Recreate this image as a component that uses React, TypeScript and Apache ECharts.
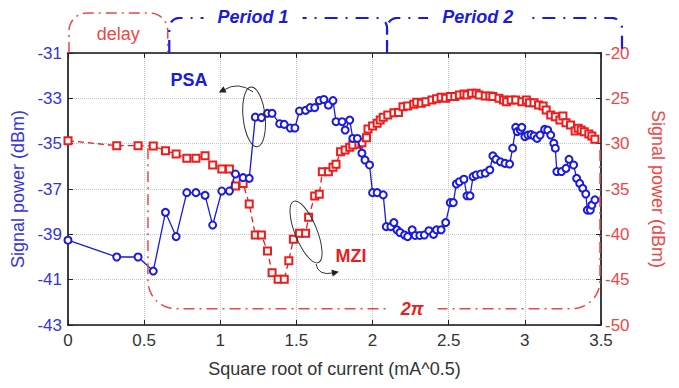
import React, { useEffect, useRef } from "react";
import * as echarts from "echarts";

// Square root of bias current (mA^0.5) and PSA output power (dBm, left axis)
const psaCurrent = [
  0, 0.32, 0.46, 0.56, 0.64, 0.71, 0.78, 0.84, 0.9, 0.95, 1.01, 1.06, 1.1, 1.15, 1.19,
  1.23, 1.27, 1.31, 1.34, 1.39, 1.42, 1.46, 1.49, 1.52, 1.56, 1.59, 1.62, 1.65, 1.68,
  1.71, 1.74, 1.76, 1.8, 1.82, 1.85, 1.87, 1.9, 1.93, 1.95, 1.98, 2.0, 2.03, 2.07,
  2.09, 2.12, 2.14, 2.16, 2.18, 2.21, 2.23, 2.26, 2.28, 2.31, 2.34, 2.37, 2.4, 2.42,
  2.45, 2.48, 2.51, 2.53, 2.55, 2.57, 2.6, 2.62, 2.64, 2.66, 2.68, 2.71, 2.74, 2.77,
  2.79, 2.81, 2.84, 2.87, 2.9, 2.92, 2.94, 2.95, 2.97, 2.98, 3.0, 3.02, 3.04, 3.06,
  3.08, 3.1, 3.13, 3.15, 3.17, 3.19, 3.2, 3.21, 3.24, 3.27, 3.29, 3.32, 3.34, 3.36,
  3.38, 3.4, 3.41, 3.43, 3.44, 3.46,
];
const psaPower = [
  -39.26, -40.0, -40.0, -40.62, -38.03, -39.1, -37.16, -37.16, -37.28, -38.59, -37.09,
  -37.09, -36.34, -36.5, -36.53, -33.83, -33.85, -33.66, -33.66, -34.12, -34.15, -34.31,
  -34.31, -33.56, -33.53, -33.41, -33.41, -33.1, -33.05, -33.3, -33.1, -34.03, -34.03,
  -34.4, -33.96, -34.77, -34.77, -35.42, -35.72, -35.94, -37.16, -37.16, -37.26, -38.66,
  -38.66, -38.48, -38.8, -38.92, -39.03, -39.1, -38.8, -39.05, -39.05, -39.03, -38.84,
  -39.0, -38.8, -38.8, -38.48, -37.6, -37.6, -36.78, -36.68, -36.57, -37.3, -37.3,
  -36.45, -36.38, -36.34, -36.3, -36.16, -35.54, -35.69, -35.8, -35.87, -35.9, -35.2,
  -34.28, -34.47, -34.4, -34.28, -34.69, -34.62, -34.6, -34.66, -34.77, -34.62, -34.37,
  -34.4, -34.62, -34.98, -35.2, -36.23, -36.23, -36.09, -35.69, -35.94, -36.53, -36.75,
  -36.97, -37.22, -37.93, -37.93, -37.71, -37.48,
];

// MZI output power (dBm, right axis)
const mziCurrent = [
  0, 0.32, 0.46, 0.56, 0.64, 0.71, 0.78, 0.84, 0.9, 0.95, 1.01, 1.06, 1.1, 1.15, 1.19,
  1.23, 1.27, 1.31, 1.34, 1.38, 1.42, 1.45, 1.48, 1.52, 1.56, 1.58, 1.62, 1.65, 1.67,
  1.71, 1.74, 1.76, 1.79, 1.82, 1.85, 1.87, 1.91, 1.93, 1.96, 1.97, 2.0, 2.03, 2.05,
  2.07, 2.1, 2.14, 2.17, 2.2, 2.23, 2.27, 2.29, 2.32, 2.35, 2.39, 2.42, 2.45, 2.48,
  2.51, 2.54, 2.57, 2.6, 2.62, 2.65, 2.68, 2.7, 2.74, 2.77, 2.79, 2.83, 2.86, 2.88,
  2.91, 2.94, 2.98, 3.01, 3.03, 3.06, 3.09, 3.12, 3.14, 3.17, 3.2, 3.23, 3.25, 3.27,
  3.3, 3.33, 3.35, 3.37, 3.39, 3.42, 3.44, 3.46,
];
const mziPower = [
  -29.67, -30.22, -30.22, -30.26, -30.77, -31.14, -31.62, -31.62, -31.32, -32.35, -32.8,
  -32.8, -34.67, -34.38, -36.65, -40.07, -40.07, -41.84, -44.23, -44.96, -44.96, -42.9,
  -40.55, -39.89, -39.89, -38.12, -35.77, -35.59, -33.09, -33.09, -32.6, -32.28, -30.88,
  -30.7, -30.4, -30.15, -30.07, -29.89, -29.34, -28.38, -28.05, -27.76, -27.39, -27.09,
  -26.84, -26.58, -26.55, -25.92, -25.85, -25.66, -25.44, -25.55, -25.37, -25.18, -25.05,
  -24.89, -25.0, -24.8, -24.8, -24.63, -24.52, -24.63, -24.45, -24.45, -24.63, -24.74,
  -24.74, -24.8, -25.0, -25.18, -25.37, -25.18, -25.18, -25.37, -25.18, -25.48, -25.48,
  -25.74, -25.85, -26.29, -26.84, -27.02, -27.39, -26.95, -27.68, -27.94, -28.6, -28.3,
  -28.49, -28.68, -28.93, -29.15, -29.52,
];

const psaAxisTicks = [-43, -41, -39, -37, -35, -33, -31];

const FONT = "'Liberation Sans', Arial, Helvetica, sans-serif";
const BLUE = "#1a1ae0";
const BLUE_TEXT = "#3434e6";
const RED = "#ee1c1c";
const RED_TEXT = "#f04646";
const GRID_LINE = "#c4c4c4";

type Pt = [number, number];

// Open rectangle with rounded corners: vertical at x0 from yBase to the
// horizontal run at yEdge, across to x1 and back to yBase.
function roundedBracket(x0: number, x1: number, yBase: number, yEdge: number, r: number, yBaseEnd?: number): Pt[] {
  const s = yBase > yEdge ? 1 : -1;
  const pts: Pt[] = [[x0, yBase]];
  const n = 12;
  const lcx = x0 + r;
  const lcy = yEdge + s * r;
  for (let i = 0; i <= n; i++) {
    const t = (i / n) * (Math.PI / 2);
    pts.push([lcx - r * Math.cos(t), lcy - s * r * Math.sin(t)]);
  }
  const rcx = x1 - r;
  for (let i = 0; i <= n; i++) {
    const t = (i / n) * (Math.PI / 2);
    pts.push([rcx + r * Math.sin(t), lcy - s * r * Math.cos(t)]);
  }
  pts.push([x1, yBaseEnd === undefined ? yBase : yBaseEnd]);
  return pts;
}

function arrowHead(ex: number, ey: number, dx: number, dy: number): Pt[] {
  const len = Math.hypot(dx, dy) || 1;
  const ux = dx / len;
  const uy = dy / len;
  const px = -uy;
  const py = ux;
  return [
    [ex + ux * 6, ey + uy * 6],
    [ex - ux * 1 + px * 3.5, ey - uy * 1 + py * 3.5],
    [ex - ux * 1 - px * 3.5, ey - uy * 1 - py * 3.5],
  ];
}

export default function App() {
  const ref = useRef<HTMLDivElement>(null);

  useEffect(() => {
    document.body.style.margin = "0";
    const chart = echarts.init(ref.current!, null, { renderer: "svg" });

    const psaData = psaCurrent.map((x, i) => [x, psaPower[i]]);
    const mziData = mziCurrent.map((x, i) => [x, mziPower[i]]);

    chart.setOption({
      animation: false,
      backgroundColor: "#ffffff",
      grid: { left: 68, right: 78, top: 53, bottom: 63, containLabel: false },
      xAxis: [
        {
          type: "value",
          position: "bottom",
          min: 0,
          max: 3.5,
          interval: 0.5,
          axisLine: { show: true, onZero: false, lineStyle: { color: "#111", width: 1.6 } },
          axisTick: { show: true, inside: true, length: 5, lineStyle: { color: "#222" } },
          axisLabel: { color: "#333", fontSize: 17, fontFamily: FONT, margin: 7 },
          splitLine: { show: true, lineStyle: { color: GRID_LINE, type: "dotted", width: 1 } },
          name: "Square root of current (mA^0.5)",
          nameLocation: "middle",
          nameGap: 35,
          nameTextStyle: { color: "#333", fontSize: 18, fontFamily: FONT },
        },
        {
          type: "value",
          position: "top",
          min: 0,
          max: 3.5,
          interval: 0.5,
          axisLine: { show: true, onZero: false, lineStyle: { color: "#111", width: 1.6 } },
          axisTick: { show: true, inside: true, length: 5, lineStyle: { color: "#222" } },
          axisLabel: { show: false },
          splitLine: { show: false },
        },
      ],
      yAxis: [
        {
          type: "value",
          position: "left",
          min: -43,
          max: -31,
          axisLine: { show: true, onZero: false, lineStyle: { color: "#111", width: 1.6 } },
          axisTick: { show: true, inside: true, length: 5, customValues: psaAxisTicks, lineStyle: { color: "#222" } },
          axisLabel: { color: BLUE_TEXT, fontSize: 17, fontFamily: FONT, margin: 6, customValues: psaAxisTicks },
          splitLine: { show: false },
          name: "Signal power (dBm)",
          nameLocation: "middle",
          nameRotate: 90,
          nameGap: 38,
          nameTextStyle: { color: BLUE_TEXT, fontSize: 18, fontFamily: FONT },
        },
        {
          type: "value",
          position: "right",
          min: -50,
          max: -20,
          interval: 5,
          axisLine: { show: true, onZero: false, lineStyle: { color: "#111", width: 1.6 } },
          axisTick: { show: true, inside: true, length: 5, lineStyle: { color: "#222" } },
          axisLabel: { color: RED_TEXT, fontSize: 17, fontFamily: FONT, margin: 4 },
          splitLine: { show: true, lineStyle: { color: GRID_LINE, type: "dotted", width: 1 } },
          name: "Signal power (dBm)",
          nameLocation: "middle",
          nameRotate: -90,
          nameGap: 48,
          nameTextStyle: { color: RED_TEXT, fontSize: 18, fontFamily: FONT },
        },
      ],
      series: [
        {
          name: "MZI",
          type: "line",
          xAxisIndex: 0,
          yAxisIndex: 1,
          data: mziData,
          symbol: "emptyRect",
          symbolSize: 7,
          color: RED,
          lineStyle: { color: RED, width: 1.3, type: [6, 4] },
          itemStyle: { color: RED, borderColor: RED, borderWidth: 1.2 },
          z: 2,
        },
        {
          name: "PSA",
          type: "line",
          xAxisIndex: 0,
          yAxisIndex: 0,
          data: psaData,
          symbol: "emptyCircle",
          symbolSize: 7,
          color: BLUE,
          lineStyle: { color: BLUE, width: 1.3 },
          itemStyle: { color: BLUE, borderColor: BLUE, borderWidth: 1.2 },
          z: 3,
        },
      ],
    });

    const X = (v: number) => chart.convertToPixel({ xAxisIndex: 0 }, v) as number;
    const YL = (v: number) => chart.convertToPixel({ yAxisIndex: 0 }, v) as number;
    const YR = (v: number) => chart.convertToPixel({ yAxisIndex: 1 }, v) as number;

    const top = YL(-31);
    const xRight = X(3.5);

    const redDash = { stroke: RED_TEXT, lineWidth: 1.5, fill: "none", lineDash: [11, 5, 2, 5] };
    const blueDash = { stroke: BLUE, lineWidth: 2.2, fill: "none", lineDash: [13, 8, 2, 8] };
    const note = { stroke: "#333", lineWidth: 1, fill: "none" };

    // PSA callout
    const pcx = X(1.222);
    const pcy = YL(-33.82);
    // MZI callout
    const mcx = X(1.563);
    const mcy = YR(-39.74);
    const bottomRun = YR(-48.2);

    const label = (text: string, x: number, y: number, color: string, weight: string, style: string, bg?: boolean) => ({
      type: "text",
      z: 120,
      style: {
        text,
        x,
        y,
        fill: color,
        fontSize: 18,
        fontWeight: weight,
        fontStyle: style,
        fontFamily: FONT,
        align: "center",
        verticalAlign: "middle",
        textAlign: "center",
        textVerticalAlign: "middle",
        ...(bg ? { backgroundColor: "#ffffff", padding: [1, 14] } : {}),
      },
    });

    chart.setOption({
      graphic: [
        // delay window above the plot
        { type: "polyline", z: 100, shape: { points: roundedBracket(X(0) + 1, X(0.655), top, top - 40, 18) }, style: redDash },
        // the two periods
        { type: "polyline", z: 100, shape: { points: roundedBracket(X(0.665), X(2.095), top, top - 35, 10) }, style: blueDash },
        { type: "polyline", z: 100, shape: { points: roundedBracket(X(2.095), xRight + 21, top, top - 35, 10, top + 2) }, style: blueDash },
        // 2π span inside the plot
        { type: "polyline", z: 100, shape: { points: roundedBracket(X(0.525), xRight - 1, YR(-30.5), bottomRun, 28) }, style: redDash },

        label("delay", X(0.33), top - 19, RED_TEXT, "normal", "normal"),
        label("Period 1", X(1.215), top - 36, BLUE, "bold", "italic", true),
        label("Period 2", X(2.69), top - 36, BLUE, "bold", "italic", true),
        label("2\u03c0", X(2.26), bottomRun, RED, "bold", "italic", true),
        label("PSA", X(0.795), YL(-32.19), BLUE, "bold", "normal"),
        label("MZI", X(1.858), YR(-42.39), RED, "bold", "normal"),

        {
          type: "ellipse",
          z: 110,
          x: pcx,
          y: pcy,
          rotation: (6 * Math.PI) / 180,
          shape: { cx: 0, cy: 0, rx: 11, ry: 30 },
          style: note,
        },
        {
          type: "bezierCurve",
          z: 110,
          shape: { x1: pcx - 1, y1: pcy - 25, cpx1: pcx - 16, cpy1: pcy - 36, x2: pcx - 30, y2: pcy - 27 },
          style: note,
        },
        {
          type: "polygon",
          z: 110,
          shape: { points: arrowHead(pcx - 30, pcy - 27, -14, 7) },
          style: { fill: "#222", stroke: "none" },
        },
        {
          type: "ellipse",
          z: 110,
          x: mcx,
          y: mcy,
          rotation: (22 * Math.PI) / 180,
          shape: { cx: 0, cy: 0, rx: 11, ry: 33 },
          style: note,
        },
        {
          type: "bezierCurve",
          z: 110,
          shape: { x1: mcx + 10, y1: mcy + 32, cpx1: mcx + 12, cpy1: mcy + 44, x2: mcx + 27, y2: mcy + 41 },
          style: note,
        },
        {
          type: "polygon",
          z: 110,
          shape: { points: arrowHead(mcx + 27, mcy + 41, 15, -3) },
          style: { fill: "#222", stroke: "none" },
        },
      ],
    });

    return () => chart.dispose();
  }, []);

  return <div ref={ref} style={{ width: 679, height: 388 }} />;
}
